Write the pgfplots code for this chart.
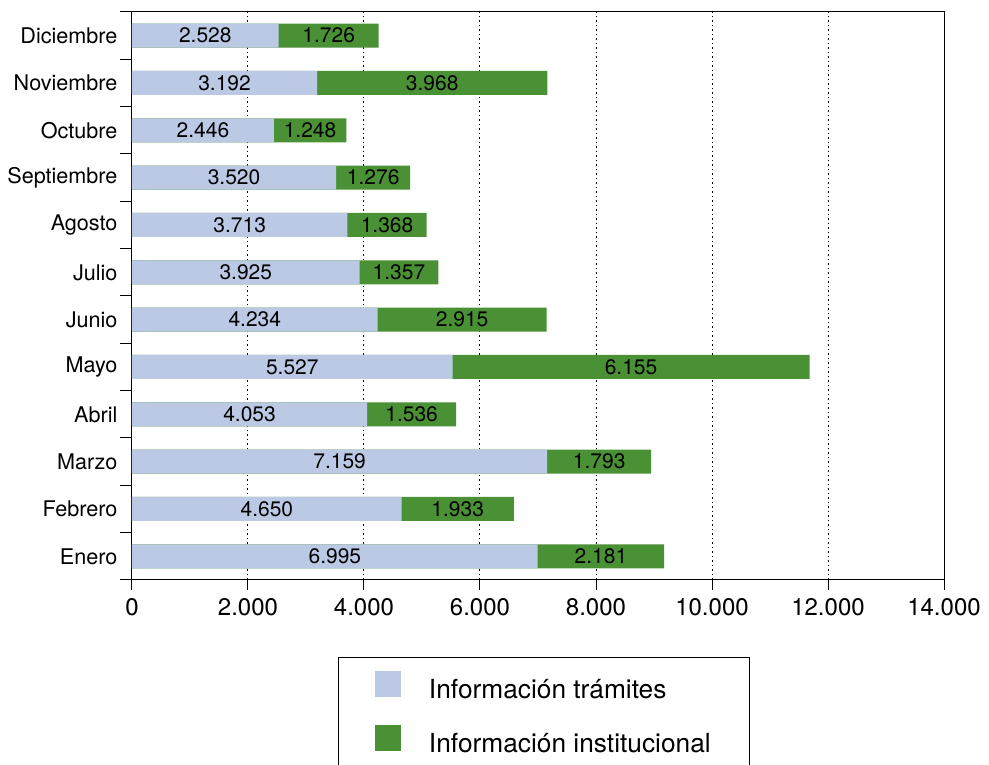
\documentclass[border=0pt]{standalone}
\usepackage{fontspec}
\setmainfont{TeX Gyre Heros}
\usepackage{pgfplots}
\usepackage{pgfplotstable}
\pgfplotsset{compat=1.18}
\definecolor{cT}{RGB}{187,201,228}
\definecolor{cI}{RGB}{73,145,52}
\pgfplotstableread{
idx t i
1 6995 2181
2 4650 1933
3 7159 1793
4 4053 1536
5 5527 6155
6 4234 2915
7 3925 1357
8 3713 1368
9 3520 1276
10 2446 1248
11 3192 3968
12 2528 1726
}\datatable
\begin{document}
\begin{tikzpicture}
\begin{axis}[
  scale only axis, width=812pt, height=568pt,
  xmin=0, xmax=14000, ymin=0.5, ymax=12.5,
  xtick={0,2000,...,14000},
  ytick={1,...,12},
  yticklabels={Enero,Febrero,Marzo,Abril,Mayo,Junio,Julio,Agosto,Septiembre,Octubre,Noviembre,Diciembre},
  minor ytick={0.5,1.5,...,12.5},
  tick align=outside,
  xtick pos=bottom, ytick pos=left,
  major tick length=10pt, minor tick length=12pt,
  major y tick style={draw=none},
  every tick/.style={black, line width=1pt},
  axis line style={line width=1pt},
  xmajorgrids,
  grid style={black, line width=1pt, dash pattern=on 1.5pt off 3pt},
  scaled x ticks=false,
  /pgf/number format/1000 sep={.},
  /pgf/number format/assume math mode=true,
  x tick label style={font=\fontsize{24}{28}\selectfont, yshift=-5pt},
  y tick label style={font=\fontsize{21.6}{25}\selectfont, xshift=-1pt},
  legend style={at={(rel axis cs:0.2537,-0.1356)}, anchor=north west, draw=black, line width=1pt,
    font=\fontsize{26.3}{30}\selectfont, row sep=23pt, inner xsep=37pt, inner ysep=13pt,
    /tikz/every even column/.append style={column sep=0pt}},
  legend cell align=left,
]
\addlegendimage{legend image code/.code={\fill[cT] (0pt,-6.5pt) rectangle (25pt,18.5pt); \path[draw=none,fill=none] (0pt,0pt) rectangle (51pt,1pt);}}
\addlegendentry{Información trámites}
\addlegendimage{legend image code/.code={\fill[cI] (0pt,-6.5pt) rectangle (25pt,18.5pt); \path[draw=none,fill=none] (0pt,0pt) rectangle (51pt,1pt);}}
\addlegendentry{Información institucional}
\addplot[xbar, bar width=24pt, fill=cI, draw=none, forget plot] table[x expr=\thisrow{t}+\thisrow{i}, y=idx]{\datatable};
\addplot[xbar, bar width=24pt, fill=cT, draw=none, forget plot] table[x=t, y=idx]{\datatable};
\addplot[draw=none, mark=none, forget plot, nodes near coords, point meta=explicit,
  nodes near coords align={center},
  every node near coord/.append style={anchor=center, text=black, font=\fontsize{21}{25}\selectfont}]
  table[x expr=\thisrow{t}/2, y=idx, meta=t]{\datatable};
\addplot[draw=none, mark=none, forget plot, nodes near coords, point meta=explicit,
  nodes near coords align={center},
  every node near coord/.append style={anchor=center, text=black, font=\fontsize{21}{25}\selectfont}]
  table[x expr=\thisrow{t}+\thisrow{i}/2, y=idx, meta=i]{\datatable};
\coordinate (bl) at (rel axis cs:0,0);
\end{axis}
\pgfresetboundingbox
\path[use as bounding box] (bl) ++(-132pt,-185pt) rectangle ++(989pt,765pt);
\end{tikzpicture}
\end{document}
